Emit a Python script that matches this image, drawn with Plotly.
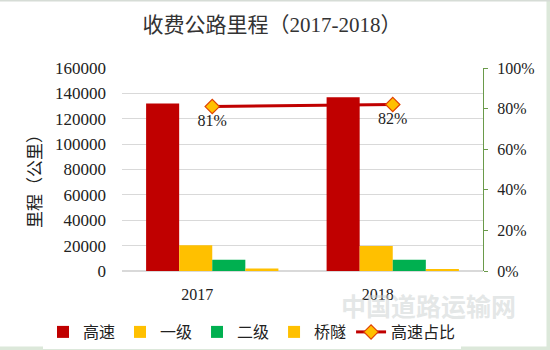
import plotly.graph_objects as go

# 收费公路里程数据（公里）
years = ["2017", "2018"]
gaosu = [132000, 137000]        # 高速
yiji = [20200, 19700]           # 一级
erji = [8900, 8800]             # 二级
qiaosui = [1900, 1000]          # 桥隧
gaosu_ratio = [0.81, 0.82]      # 高速占比
ratio_labels = ["81%", "82%"]

FONT = "Liberation Serif, Noto Sans CJK SC, sans-serif"
CJK = "Noto Sans CJK SC, sans-serif"

fig = go.Figure()
bar_specs = [
    ("高速", gaosu, "#C00000"),
    ("一级", yiji, "#FFC000"),
    ("二级", erji, "#00B050"),
    ("桥隧", qiaosui, "#FFC000"),
]
for name, vals, color in bar_specs:
    fig.add_trace(go.Bar(x=years, y=vals, name=name, marker_color=color,
                         marker_line_width=0, yaxis="y"))

fig.add_trace(go.Scatter(
    x=years, y=gaosu_ratio, name="高速占比", yaxis="y2",
    mode="lines+markers+text",
    line=dict(color="#C00000", width=3),
    marker=dict(symbol="diamond", size=11, color="#FFC000",
                line=dict(color="#E04000", width=1.2)),
    text=ratio_labels, textposition="bottom center",
    textfont=dict(family=FONT, size=16, color="#222222"),
))

# 绘图区边距（像素）
WIDTH, HEIGHT = 550, 350
L, R, T, B = 122, 67, 68, 79
W, H = WIDTH - L - R, HEIGHT - T - B
def px(x):
    return (x - L) / W
def py(y):
    return (HEIGHT - B - y) / H

# 外框线条
shapes = [
    dict(type="rect", xref="paper", yref="paper", x0=px(546.5), x1=px(551),
         y0=py(351), y1=py(-1), fillcolor="#DCE8DA", line_width=0, layer="below"),
    dict(type="rect", xref="paper", yref="paper", x0=px(-1), x1=px(551),
         y0=py(351), y1=py(346.5), fillcolor="#DCE8DA", line_width=0, layer="below"),
    dict(type="rect", xref="paper", yref="paper", x0=px(-1), x1=px(551),
         y0=py(1.5), y1=py(-1), fillcolor="#D6DCD6", line_width=0, layer="below"),
]

fig.update_layout(
    width=WIDTH, height=HEIGHT,
    margin=dict(l=L, r=R, t=T, b=B, autoexpand=False),
    paper_bgcolor="white", plot_bgcolor="white",
    barmode="group", bargap=0.267, bargroupgap=0,
    title=dict(text="收费公路里程（2017-2018）", xref="container",
               x=272 / WIDTH, xanchor="center",
               yref="container", y=1 - 25 / HEIGHT, yanchor="middle",
               font=dict(family=FONT, size=21, color="#333333")),
    xaxis=dict(type="category", range=[-0.5, 1.5], showline=False,
               showgrid=False, ticks="", ticklabelshift=-15,
               ticklabelstandoff=12,
               tickfont=dict(family=FONT, size=16, color="#222222")),
    yaxis=dict(range=[0, 160000], dtick=20000, showgrid=True,
               gridcolor="#D9D9D9", gridwidth=1, zeroline=True,
               zerolinecolor="#D9D9D9", showline=False, ticks="",
               tickformat="d", ticklabelstandoff=15,
               tickfont=dict(family=FONT, size=17, color="#222222")),
    yaxis2=dict(range=[0, 1], dtick=0.2, tickformat=".0%", overlaying="y",
                side="right", showgrid=False, zeroline=False,
                showline=True, linecolor="#6A9A4A", linewidth=1,
                ticks="outside", ticklen=4, tickcolor="#6A9A4A",
                ticklabelstandoff=6,
                tickfont=dict(family=FONT, size=16, color="#222222")),
    legend=dict(orientation="h", xref="paper", yref="paper",
                x=px(43), xanchor="left",
                y=py(332), yanchor="middle",
                font=dict(family=CJK, size=16, color="#222222"),
                itemwidth=30, traceorder="normal"),
    showlegend=True,
    shapes=shapes,
    annotations=[
        dict(text="里程（公里）", textangle=-90, xref="paper",
             yref="paper", x=px(33), y=py(177), showarrow=False,
             xanchor="center", yanchor="middle",
             font=dict(family=CJK, size=17, color="#222222")),
        # 网站水印
        dict(text="<b>中国道路运输网</b>", xref="paper", yref="paper",
             x=px(428), y=py(305), showarrow=False,
             xanchor="center", yanchor="middle",
             font=dict(family=CJK, size=25, color="rgba(205,210,210,0.55)")),
    ],
)

fig.write_html("out.html")
